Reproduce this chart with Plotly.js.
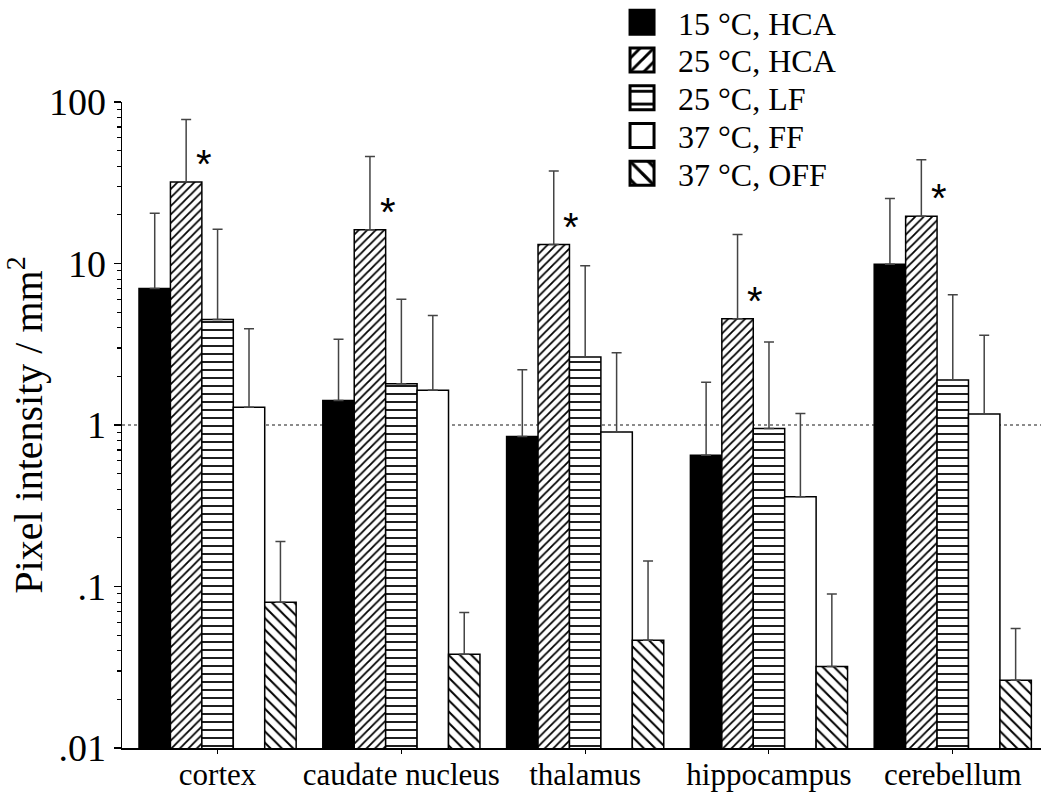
<!DOCTYPE html>
<html>
<head>
<meta charset="utf-8">
<script src="https://cdn.plot.ly/plotly-3.0.1.min.js"></script>
<style>html,body{margin:0;padding:0;background:#fff}#chart{width:1050px;height:795px}</style>
</head>
<body>
<div id="chart"></div>
<script>
// ---- data ----
const categories = ['cortex', 'caudate nucleus', 'thalamus', 'hippocampus', 'cerebellum'];
const seriesNames = ['15 °C, HCA', '25 °C, HCA', '25 °C, LF', '37 °C, FF', '37 °C, OFF'];

const hca15 = [7.0, 1.42, 0.85, 0.65, 9.9];
const hca15Top = [20.5, 3.4, 2.2, 1.84, 25.3];

const hca25 = [32, 16.2, 13.1, 4.55, 19.6];
const hca25Top = [78, 46, 37.4, 15.1, 43.9];

const lf25 = [4.5, 1.8, 2.64, 0.95, 1.9];
const lf25Top = [16.3, 6.0, 9.7, 3.26, 6.4];

const ff37 = [1.29, 1.64, 0.905, 0.36, 1.17];
const ff37Top = [3.95, 4.77, 2.8, 1.18, 3.6];

const off37 = [0.08, 0.038, 0.0465, 0.032, 0.0263];
const off37Top = [0.19, 0.069, 0.144, 0.09, 0.055];

const significant = [true, true, true, true, true]; // '*' over 25 °C, HCA
const yTickVals = [0.01, 0.1, 1, 10, 100];
const yTickText = ['.01', '.1', '1', '10', '100'];
const referenceLevel = 1;

// ---- styling ----
const SERIF = '"Liberation Serif", "Times New Roman", serif';
const X_RANGE = [-0.52, 4.48];
const patterns = [
  {shape: '', color: 'black'},
  {shape: '/', size: 6, solidity: 0.3, color: 'white'},
  {shape: '-', size: 8, solidity: 0.22, color: 'white'},
  {shape: '', color: 'white'},
  {shape: '\\', size: 8, solidity: 0.25, color: 'white'}
];
const values = [hca15, hca25, lf25, ff37, off37];
const tops = [hca15Top, hca25Top, lf25Top, ff37Top, off37Top];

const traces = values.map((v, i) => {
  const p = patterns[i];
  const marker = {color: p.color, line: {color: 'black', width: 1.5}};
  if (p.shape) {
    marker.pattern = {shape: p.shape, size: p.size, solidity: p.solidity,
                      fgcolor: 'black', bgcolor: 'white', fillmode: 'replace'};
  }
  return {
    type: 'bar',
    name: seriesNames[i],
    x: categories,
    y: v,
    marker: marker,
    error_y: {
      type: 'data', symmetric: false,
      array: tops[i].map((t, k) => t - v[k]),
      arrayminus: v.map(() => 0),
      color: '#444', thickness: 1.5, width: 5
    },
    hoverinfo: 'x+y+name'
  };
});

const minorVals = [];
for (let d = -2; d < 2; d++) for (let m = 2; m <= 9; m++) minorVals.push(m * Math.pow(10, d));

const annotations = categories.map((c, k) => significant[k] ? {
  x: k - 0.075, xref: 'x', y: Math.log10(hca25[k]), yref: 'y',
  text: '*', showarrow: false, yshift: 18,
  font: {family: '"Liberation Sans", Arial, sans-serif', size: 40, color: 'black'}
} : null).filter(Boolean);

const layout = {
  width: 1050, height: 795,
  margin: {l: 122, r: 9, t: 102, b: 47, autoexpand: false},
  paper_bgcolor: 'white', plot_bgcolor: 'rgba(0,0,0,0)',
  barmode: 'group', bargap: 0.145, bargroupgap: 0,
  showlegend: true,
  legend: {
    x: 0.5452, y: 1.155, xanchor: 'left', yanchor: 'top',
    bgcolor: 'rgba(0,0,0,0)', borderwidth: 0, itemwidth: 45,
    font: {family: SERIF, size: 32, color: 'black'},
    traceorder: 'normal'
  },
  xaxis: {
    type: 'category', range: X_RANGE,
    showline: true, linecolor: 'black', linewidth: 1.5,
    ticks: 'outside', ticklen: 4, tickwidth: 1, tickcolor: '#000',
    ticklabelstandoff: -6,
    showgrid: false, zeroline: false,
    tickfont: {family: SERIF, size: 31, color: 'black'}
  },
  yaxis: {
    type: 'log', range: [-2, 2],
    showline: true, linecolor: 'black', linewidth: 1.5,
    ticks: 'outside', ticklen: 7, tickwidth: 1.5, tickcolor: '#000',
    tickmode: 'array', tickvals: yTickVals, ticktext: yTickText,
    minor: {ticks: 'outside', ticklen: 4, tickwidth: 1.2, tickcolor: '#000',
            tickmode: 'array', tickvals: minorVals, showgrid: false},
    showgrid: false, zeroline: false,
    tickfont: {family: SERIF, size: 38, color: 'black'},
    title: {text: 'Pixel intensity / mm<sup>2</sup>', font: {family: SERIF, size: 40, color: 'black'}, standoff: 8}
  },
  shapes: [{
    type: 'line', xref: 'x', x0: X_RANGE[0], x1: X_RANGE[1], yref: 'y',
    y0: referenceLevel, y1: referenceLevel,
    line: {color: '#666', width: 1.3, dash: 'dot'}, layer: 'below'
  }],
  annotations: annotations
};

const ROW_STEP = 37.75;   // legend row spacing in the reference
const ROW_SHIFT = -7;     // move legend rows to the reference position
const SYMBOL_SCALE = 2;
const SYMBOL_GAP = 36;    // symbol centre to text start

Plotly.newPlot('chart', traces, layout, {displayModeBar: false, staticPlot: true}).then(() => {
  const legend = document.querySelector('.legend');
  if (legend) legend.querySelectorAll('[clip-path]').forEach(el => el.removeAttribute('clip-path'));
  const items = Array.from(document.querySelectorAll('.legend .traces'));
  let y0 = null;
  items.forEach((g, i) => {
    const m = /translate\(\s*([-\d.e]+)[ ,]+([-\d.e]+)\s*\)/.exec(g.getAttribute('transform') || '');
    if (m) {
      const gx = parseFloat(m[1]), gy = parseFloat(m[2]);
      if (y0 === null) y0 = gy + ROW_SHIFT;
      g.setAttribute('transform', 'translate(' + gx + ',' + (y0 + i * ROW_STEP) + ')');
    }
    const path = g.querySelector('.legendpoints path');
    const text = g.querySelector('.legendtext');
    if (path && text) {
      const bb = path.getBBox();
      const cx = bb.x + bb.width / 2, cy = bb.y + bb.height / 2;
      const cons = path.transform.baseVal.consolidate();
      const mt = cons ? cons.matrix : {a: 1, b: 0, c: 0, d: 1, e: 0, f: 0};
      const py = mt.b * cx + mt.d * cy + mt.f;
      const tx = parseFloat(text.getAttribute('x')) || 40;
      path.setAttribute('transform', 'translate(' + (tx - SYMBOL_GAP) + ',' + py + ') scale(' + SYMBOL_SCALE + ') translate(' + (-cx) + ',' + (-cy) + ')');
    }
  });
});
</script>
</body>
</html>
